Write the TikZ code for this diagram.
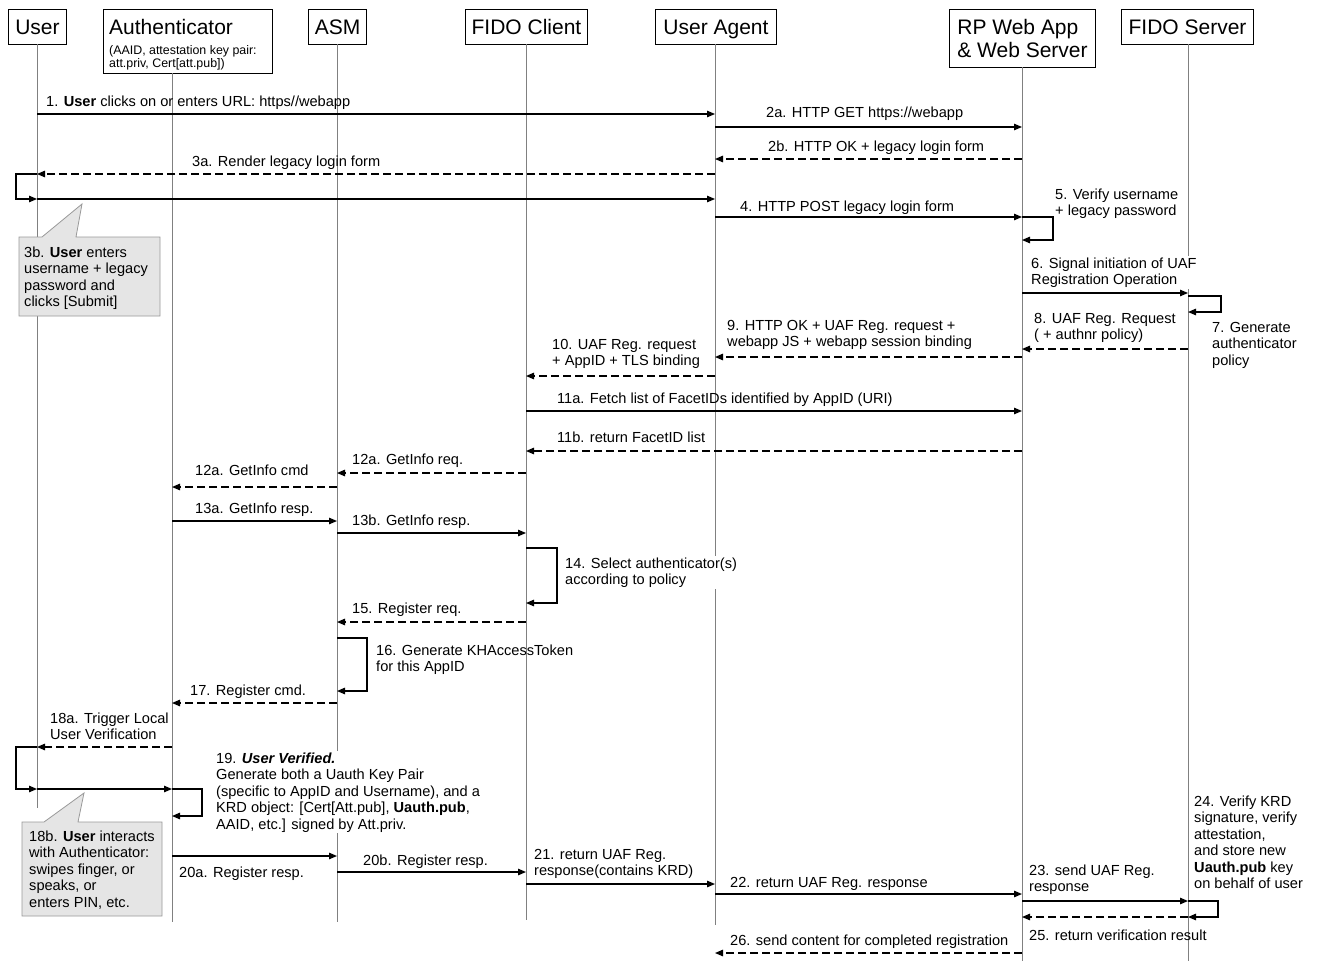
\documentclass[tikz,border=0pt]{standalone}
\usepackage{fontspec}
\setmainfont{Liberation Sans}
\usetikzlibrary{arrows.meta}
\begin{document}
\begin{tikzpicture}[x=1pt,y=-1pt,
  hbox/.style={draw, line width=1pt, fill=white, inner sep=0pt, anchor=north west, font=\fontsize{21}{23}\selectfont},
  htxt/.style={text height=15, text depth=1},
  life/.style={draw=black!50, line width=0.9pt},
  msg/.style={line width=1.2pt, -{Triangle[length=8pt,width=6.5pt]}},
  ret/.style={msg, dash pattern=on 8pt off 4pt},
  lbl/.style={font=\fontsize{14.6}{16.5}\selectfont, inner sep=0pt, anchor=base west, align=left},
  wl/.style={lbl, fill=white, inner sep=1pt},
  note/.style={fill=black!10, draw=black!40, line width=0.8pt}]
\useasboundingbox (0,0) rectangle (1319,961);
\fill[white] (0,0) rectangle (1319,961);

% headers
\node[hbox, htxt, minimum width=58, minimum height=35] (user) at (8,9) {User};
\node[hbox, minimum width=169, minimum height=64] (auth) at (103,9) {};
\node[anchor=base west, inner sep=0pt, font=\fontsize{21}{23}\selectfont] (authT) at (109,34) {Authenticator};
\node[anchor=base west, inner sep=0pt, font=\fontsize{12.4}{13}\selectfont, align=left] (authS) at (109,67) {(AAID, attestation key pair:\\att.priv, Cert[att.pub])};
\node[hbox, htxt, minimum width=58, minimum height=35] (asm) at (308,9) {ASM};
\node[hbox, htxt, minimum width=122, minimum height=35] (fc) at (465,9) {FIDO Client};
\node[hbox, htxt, minimum width=121, minimum height=35] (ua) at (655,9) {User Agent};
\node[hbox, minimum width=146, minimum height=58, align=left] (rp) at (949,9) {RP Web App\\\& Web Server};
\node[hbox, htxt, minimum width=132, minimum height=35] (fs) at (1121,9) {FIDO Server};

% lifeline coordinates
\coordinate (U) at (37,44);
\coordinate (A) at (172,73);
\coordinate (S) at (337,44);
\coordinate (C) at (526,44);
\coordinate (G) at (715,44);
\coordinate (W) at (1022,67);
\coordinate (F) at (1188,44);
\coordinate (Ue) at (37,808);
\coordinate (Ae) at (172,922);
\coordinate (Se) at (337,922);
\coordinate (Ce) at (526,920);
\coordinate (Ge) at (715,925);
\coordinate (We) at (1022,961);
\coordinate (Fe) at (1188,961);
\draw[life] (U) -- (Ue);
\draw[life] (A) -- (Ae);
\draw[life] (S) -- (Se);
\draw[life] (C) -- (Ce);
\draw[life] (G) -- (Ge);
\draw[life] (W) -- (We);
\draw[life] (F) -- (Fe);

% callouts
\draw[note] (19,237) -- (42,237) -- (82,204) -- (76,237) -- (160,237) -- (160,316) -- (19,316) -- cycle;
\node[lbl] (n3b) at (24,306.5) {3b. \textbf{User} enters\\username + legacy\\password and\\clicks [Submit]};
\draw[note] (22,822) -- (44,822) -- (84,793) -- (78,822) -- (162,822) -- (162,916) -- (22,916) -- cycle;
\node[lbl] (n18b) at (29,907) {18b. \textbf{User} interacts\\with Authenticator:\\swipes finger, or\\speaks, or\\enters PIN, etc.};

% messages
\draw[msg] (U|-0,114) -- (G|-0,114);
\node[lbl] (m1) at (46,106) {1. \textbf{User} clicks on or enters URL: https//webapp};
\draw[msg] (G|-0,127) -- (W|-0,127);
\node[lbl] (m2a) at (766,117) {2a. HTTP GET https://webapp};
\draw[ret] (W|-0,159) -- (G|-0,159);
\node[lbl] (m2b) at (768,151) {2b. HTTP OK + legacy login form};
\draw[ret] (G|-0,174) -- (U|-0,174);
\node[lbl] (m3a) at (192,166) {3a. Render legacy login form};
\draw[msg] (U|-0,174) -- (16,174) -- (16,199) -- (U|-0,199);
\draw[msg] (U|-0,199) -- (G|-0,199);
\draw[msg] (G|-0,217) -- (W|-0,217);
\node[lbl] (m4) at (740,211) {4. HTTP POST legacy login form};
\draw[msg] (W|-0,217) -- (1053,217) -- (1053,240) -- (W|-0,240);
\node[lbl] (m5) at (1055,215.5) {5. Verify username\\+ legacy password};
\draw[msg] (W|-0,293) -- (F|-0,293);
\node[wl] (m6) at (1030,284.5) {6. Signal initiation of UAF\\Registration Operation};
\draw[msg] (F|-0,296) -- (1221,296) -- (1221,312) -- (F|-0,312);
\node[lbl] (m7) at (1212,365) {7. Generate\\authenticator\\policy};
\draw[ret] (F|-0,349) -- (W|-0,349);
\node[lbl] (m8) at (1034,339.5) {8. UAF Reg. Request\\( + authnr policy)};
\draw[ret] (W|-0,357) -- (G|-0,357);
\node[lbl] (m9) at (727,346.5) {9. HTTP OK + UAF Reg. request +\\webapp JS + webapp session binding};
\draw[ret] (G|-0,376) -- (C|-0,376);
\node[lbl] (m10) at (552,365.5) {10. UAF Reg. request\\+ AppID + TLS binding};
\draw[msg] (C|-0,411) -- (W|-0,411);
\node[lbl] (m11a) at (557,403) {11a. Fetch list of FacetIDs identified by AppID (URI)};
\draw[ret] (W|-0,451) -- (C|-0,451);
\node[lbl] (m11b) at (557,442) {11b. return FacetID list};
\draw[ret] (C|-0,473) -- (S|-0,473);
\node[lbl] (m12r) at (352,464) {12a. GetInfo req.};
\draw[ret] (S|-0,487) -- (A|-0,487);
\node[lbl] (m12c) at (195,475) {12a. GetInfo cmd};
\draw[msg] (A|-0,521) -- (S|-0,521);
\node[lbl] (m13a) at (195,513) {13a. GetInfo resp.};
\draw[msg] (S|-0,533) -- (C|-0,533);
\node[lbl] (m13b) at (352,525) {13b. GetInfo resp.};
\draw[msg] (C|-0,548) -- (557,548) -- (557,603) -- (C|-0,603);
\node[wl] (m14) at (564,584.5) {14. Select authenticator(s)\\according to policy};
\draw[ret] (C|-0,622) -- (S|-0,622);
\node[lbl] (m15) at (352,613) {15. Register req.};
\draw[msg] (S|-0,638) -- (367,638) -- (367,691) -- (S|-0,691);
\node[lbl] (m16) at (376,671.5) {16. Generate KHAccessToken\\for this AppID};
\draw[ret] (S|-0,703) -- (A|-0,703);
\node[lbl] (m17) at (190,695) {17. Register cmd.};
\draw[ret] (A|-0,747) -- (U|-0,747);
\node[lbl] (m18a) at (50,739.5) {18a. Trigger Local\\User Verification};
\draw[msg] (U|-0,747) -- (16,747) -- (16,789) -- (U|-0,789);
\draw[msg] (U|-0,789) -- (A|-0,789);
\draw[msg] (A|-0,789) -- (202,789) -- (202,816) -- (A|-0,816);
\node[wl] (m19) at (215,829) {19. \textbf{\textit{User Verified.}}\\Generate both a Uauth Key Pair\\(specific to AppID and Username), and a\\KRD object: [Cert[Att.pub], \textbf{Uauth.pub},\\AAID, etc.] signed by Att.priv.};
\draw[msg] (A|-0,856) -- (S|-0,856);
\node[lbl] (m20a) at (179,877) {20a. Register resp.};
\draw[msg] (S|-0,872) -- (C|-0,872);
\node[lbl] (m20b) at (363,865) {20b. Register resp.};
\draw[msg] (C|-0,884) -- (G|-0,884);
\node[lbl] (m21) at (534,875.5) {21. return UAF Reg.\\response(contains KRD)};
\draw[msg] (G|-0,894) -- (W|-0,894);
\node[lbl] (m22) at (730,887) {22. return UAF Reg. response};
\draw[msg] (W|-0,901) -- (F|-0,901);
\node[lbl] (m23) at (1029,891.5) {23. send UAF Reg.\\response};
\draw[msg] (F|-0,901) -- (1218,901) -- (1218,917) -- (F|-0,917);
\node[lbl] (m24) at (1194,888.5) {24. Verify KRD\\signature, verify\\attestation,\\and store new\\\textbf{Uauth.pub} key\\on behalf of user};
\draw[ret] (F|-0,917) -- (W|-0,917);
\node[lbl] (m25) at (1029,940) {25. return verification result};
\draw[ret] (W|-0,953) -- (G|-0,953);
\node[lbl] (m26) at (730,945) {26. send content for completed registration};
\end{tikzpicture}
\end{document}
